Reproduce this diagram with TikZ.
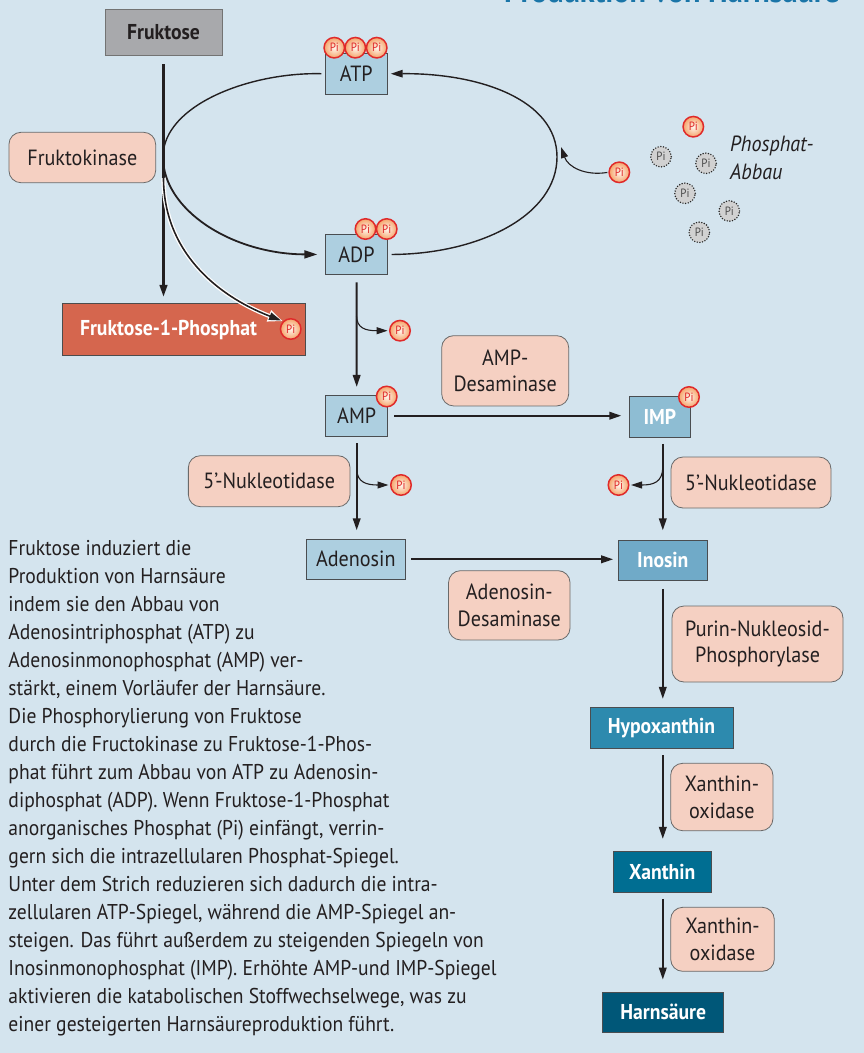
\documentclass[tikz,border=0pt]{standalone}
\usepackage{fontspec}
\setmainfont{PT Sans}[FakeStretch=0.915]
\usetikzlibrary{arrows.meta,calc}
\definecolor{bg}{HTML}{D4E4EE}
\definecolor{txt}{HTML}{231F20}
\definecolor{boxline}{HTML}{4A4D50}
\definecolor{enzfill}{HTML}{F5D0C2}
\definecolor{enzline}{HTML}{6A6A6A}
\definecolor{lblue}{HTML}{ADCFE0}
\definecolor{impc}{HTML}{8EBDD3}
\definecolor{inoc}{HTML}{70AAC8}
\definecolor{hypc}{HTML}{2D8AAE}
\definecolor{xanc}{HTML}{006E92}
\definecolor{harc}{HTML}{005778}
\definecolor{fruc}{HTML}{A8A9AC}
\definecolor{f1pc}{HTML}{D5664E}
\definecolor{titleblue}{HTML}{1A75A8}
\definecolor{pired}{HTML}{E02A2A}
\definecolor{piin}{HTML}{FFF6EE}
\definecolor{piout}{HTML}{F5A46A}
\begin{document}
\begin{tikzpicture}[x=1pt,y=-1pt,
  box/.style={draw=boxline, line width=0.8pt, inner sep=0pt, text=txt, font=\fontsize{22}{24}\selectfont},
  dbox/.style={box, text=white, font=\bfseries\fontsize{21.5}{24}\selectfont},
  enz/.style={draw=enzline, fill=enzfill, rounded corners=12pt, line width=0.8pt, align=center, inner sep=0pt, text=txt, font=\fontsize{22}{26.7}\selectfont},
  pi/.style={circle, draw=pired, line width=1.5pt, inner sep=0pt, minimum size=20.5pt, shading=radial, inner color=piin, outer color=piout, text=pired, font=\fontsize{12}{12}\selectfont},
  dpi/.style={circle, fill=black!18, draw=black!85, line width=1.6pt, dash pattern=on 0pt off 2.7pt, line cap=round, inner sep=0pt, minimum size=20.5pt, text=black!70, font=\fontsize{12}{12}\selectfont},
  arr/.style={line width=2pt, draw=txt, -{Triangle[length=12pt,width=7.5pt]}},
  small/.style={line width=1.1pt, draw=txt, -{Triangle[length=11pt,width=7pt]}},
  cyc/.style={line width=1.4pt, draw=txt},
  body/.style={anchor=base west, inner sep=0pt, text=txt, font=\fontsize{21.4}{28}\selectfont}
]
\useasboundingbox[fill=bg] (0,0) rectangle (864,1053);

% title (cut at the top)
\node[anchor=base east, inner sep=0pt, text=titleblue, font=\bfseries\fontsize{33}{36}\selectfont] (title) at (840,2.5) {Produktion von Harnsäure};

% boxes
\node[box, fill=fruc, draw=black!55, minimum width=117pt, minimum height=45.7pt, font=\bfseries\fontsize{21.5}{24}\selectfont] (fru) at (163.5,32.2) {Fruktose};
\node[box, fill=lblue, minimum width=62pt, minimum height=41pt] (atp) at (356.3,73.8) {ATP};
\node[box, fill=lblue, minimum width=61.6pt, minimum height=40.4pt] (adp) at (356.5,254.5) {ADP};
\node[dbox, fill=f1pc, draw=black!70, minimum height=52.4pt, text width=207.3pt, inner xsep=17.7pt, align=left] (f1p) at (183.7,329.5) {Fruktose-1-Phosphat};
\node[dbox, fill=impc, minimum width=61.7pt, minimum height=41pt] (imp) at (659.9,416.8) {IMP};
\node[box, fill=lblue, minimum width=62pt, minimum height=40.7pt] (amp) at (356.7,415.7) {AMP};
\node[box, fill=lblue, minimum width=98.4pt, minimum height=40pt] (ade) at (355.8,559.3) {Adenosin};
\node[dbox, fill=inoc, minimum width=88.4pt, minimum height=40.3pt] (ino) at (662.8,560.2) {Inosin};
\node[dbox, fill=hypc, minimum width=143pt, minimum height=41pt] (hyp) at (661.5,728.2) {Hypoxanthin};
\node[dbox, fill=xanc, minimum width=98.7pt, minimum height=40.7pt] (xan) at (662.3,871.7) {Xanthin};
\node[dbox, fill=harc, minimum width=121pt, minimum height=40pt] (har) at (663.2,1012.3) {Harnsäure};

% enzymes
\node[enz, minimum width=146.7pt, minimum height=50.4pt] (fk) at (82.3,157.5) {Fruktokinase};
\node[enz, minimum width=127pt, minimum height=70.3pt] (ampd) at (505.2,370.8) {AMP-\\Desaminase};
\node[enz, minimum width=161.7pt, minimum height=51pt] (n5l) at (269.2,481.2) {5\char"0027-Nukleotidase};
\node[enz, minimum width=160pt, minimum height=51pt] (n5r) at (751,482.5) {5\char"0027-Nukleotidase};
\node[enz, minimum width=121.5pt, minimum height=69.3pt] (adad) at (509.3,605.3) {Adenosin-\\Desaminase};
\node[enz, minimum width=171pt, minimum height=76pt] (pnp) at (757.5,644) {Purin-Nukleosid-\\Phosphorylase};
\node[enz, minimum width=102.3pt, minimum height=67.4pt] (xo1) at (721.8,797) {Xanthin-\\oxidase};
\node[enz, minimum width=103.6pt, minimum height=64pt] (xo2) at (722.5,939.3) {Xanthin-\\oxidase};

% phosphate groups on molecules
\node[pi] (pa1) at (334.3,47.7) {Pi};
\node[pi] (pa2) at (355.3,47.7) {Pi};
\node[pi] (pa3) at (376.7,47.7) {Pi};
\node[pi] (pd1) at (365.5,229) {Pi};
\node[pi] (pd2) at (386.7,229) {Pi};
\node[pi] (pm1) at (386.7,396.5) {Pi};
\node[pi] (pi1) at (689,397) {Pi};
\node[pi] (pf) at (290.7,329) {Pi};
% released phosphates
\node[pi] (pr1) at (400,330.7) {Pi};
\node[pi] (pr2) at (401,485) {Pi};
\node[pi] (pr3) at (618.5,485) {Pi};
\node[pi] (pr4) at (619.3,172.3) {Pi};
\node[pi] (pr5) at (693.3,126.7) {Pi};
% degraded phosphates
\node[dpi] (g1) at (661,156.7) {Pi};
\node[dpi] (g2) at (706,163.3) {Pi};
\node[dpi] (g3) at (685,193.3) {Pi};
\node[dpi] (g4) at (729.3,211) {Pi};
\node[dpi] (g5) at (699.3,232.3) {Pi};
\node[anchor=base west, inner sep=0pt, text=txt, font=\itshape\fontsize{22}{26}\selectfont] (pa) at (730,151.7) {Phosphat-};
\node[anchor=base west, inner sep=0pt, text=txt, font=\itshape\fontsize{22}{26}\selectfont] (pb) at (730,179.3) {Abbau};

% ATP/ADP cycle
\coordinate (eL) at (163,157);
\coordinate (eR) at (557,157);
\draw[cyc, shorten <=3.5pt] (atp.west) .. controls (250,72) and (163,105) .. (eL);
\draw[cyc, line width=1.8pt, -{Triangle[length=13pt,width=8pt]}, shorten >=8pt] (eL) .. controls (163,210) and (232,254) .. (adp.west);
\draw[cyc, -{Triangle[length=12pt,width=7.5pt]}, shorten <=4pt, shorten >=3pt] (adp.east) .. controls (480,254) and (557,215) .. (eR) .. controls (557,100) and (480,73) .. (atp.east);
\draw[small, line width=1.1pt, shorten <=1pt] (pr4.west) .. controls (585,176) and (568,167) .. (561,147);

% Fruktose to Fruktose-1-Phosphat
\draw[arr, line width=2.6pt, shorten <=9pt, shorten >=6pt] (fru.south) -- (fru.south |- f1p.north);
\coordinate (fkb) at (163.5,178);
\draw[line width=4.2pt, white, -{Triangle[length=15pt,width=11pt]}, shorten >=0pt] (fkb) .. controls (163.5,250) and (215,295) .. (pf.north west);
\draw[line width=1.6pt, draw=txt, -{Triangle[length=12pt,width=7.5pt]}, shorten >=2pt] (fkb) .. controls (163.5,250) and (215,295) .. (pf.north west);

% ADP -> AMP
\draw[arr, shorten <=7.3pt, shorten >=8pt] (adp.south) -- (amp.north);
\coordinate (b1) at (356.5,316);
\draw[small, shorten >=1.5pt] (b1) .. controls (357,328) and (365,330.7) .. (pr1.west);

% AMP -> IMP
\draw[arr, shorten <=6pt, shorten >=7.3pt] (amp.east) -- (amp.east -| imp.west);

% AMP -> Adenosin
\draw[arr, shorten <=7pt, shorten >=8.6pt] (amp.south) -- (amp.south |- ade.north);
\coordinate (b2) at (356.7,470);
\draw[small, shorten >=1.5pt] (b2) .. controls (357.5,482) and (366,485) .. (pr2.west);

% IMP -> Inosin
\draw[arr, shorten <=6.2pt, shorten >=9.3pt] (ino.north |- imp.south) -- (ino.north);
\coordinate (b3) at (662.8,468);
\draw[small, shorten >=1.5pt] (b3) .. controls (662,482) and (654,485) .. (pr3.east);

% Adenosin -> Inosin
\draw[arr, shorten <=6pt, shorten >=5pt] (ade.east) -- (ade.east -| ino.west);

% down the purine chain
\draw[arr, shorten <=8pt, shorten >=8.4pt] (ino.south) -- (ino.south |- hyp.north);
\draw[arr, shorten <=6.3pt, shorten >=12pt] (ino.south |- hyp.south) -- (ino.south |- xan.north);
\draw[arr, shorten <=6.3pt, shorten >=12.3pt] (ino.south |- xan.south) -- (ino.south |- har.north);

% explanatory text
\foreach \ln [count=\i from 0] in {
 {Fruktose induziert die},
 {Produktion von Harnsäure},
 {indem sie den Abbau von},
 {Adenosintriphosphat (ATP) zu},
 {Adenosinmonophosphat (AMP) ver-},
 {stärkt, einem Vorläufer der Harnsäure.},
 {Die Phosphorylierung von Fruktose},
 {durch die Fructokinase zu Fruktose-1-Phos-},
 {phat führt zum Abbau von ATP zu Adenosin-},
 {diphosphat (ADP). Wenn Fruktose-1-Phosphat},
 {anorganisches Phosphat (Pi) einfängt, verrin-},
 {gern sich die intrazellularen Phosphat-Spiegel.},
 {Unter dem Strich reduzieren sich dadurch die intra-},
 {zellularen ATP-Spiegel, während die AMP-Spiegel an-},
 {steigen. Das führt außerdem zu steigenden Spiegeln von},
 {Inosinmonophosphat (IMP). Erhöhte AMP-und IMP-Spiegel},
 {aktivieren die katabolischen Stoffwechselwege, was zu},
 {einer gesteigerten Harnsäureproduktion führt.}}
 \node[body] (t\i) at (8.3,{555+28.05*\i}) {\ln};
\end{tikzpicture}
\end{document}
